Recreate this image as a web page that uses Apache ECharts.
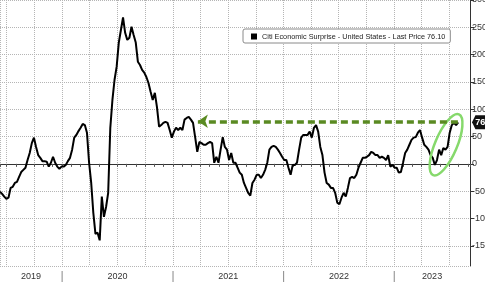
<!DOCTYPE html>
<html><head><meta charset="utf-8">
<script src="https://cdn.jsdelivr.net/npm/echarts@6/dist/echarts.min.js"></script>
<style>html,body{margin:0;padding:0;background:#fff}#c{width:485px;height:282px}</style>
</head><body><div id="c"></div>
<script>
// ---------- data ----------
const seriesName = 'Citi Economic Surprise - United States - Last Price 76.10';
const firstWeek = '2019-06-10';           // weekly observations start here
const weeklyValues = [
  -51, -55, -60, -64, -62, -44, -42, -35, -33, -24,
  -15, -11, -7, 7, 20, 38, 48, 31, 16, 11,
  5, 5, 4, -5, 2, 13, 2, -5, -9, -5,
  -5, -2, 5, 11, 26, 48, 53, 60, 66, 73,
  71, 57, 2, -35, -90, -128, -126, -140, -60, -97,
  -79, -53, 66, 117, 154, 178, 222, 245, 268, 240,
  227, 231, 251, 236, 222, 187, 181, 172, 167, 159,
  148, 132, 117, 130, 104, 68, 71, 75, 77, 75,
  62, 48, 59, 66, 62, 66, 62, 81, 84, 86,
  81, 75, 49, 22, 40, 38, 35, 35, 38, 40,
  38, 2, 13, 2, 26, 49, 31, 26, 7, 20,
  2, 2, -7, -16, -20, -35, -44, -53, -58, -35,
  -29, -20, -20, -26, -20, -11, 2, 26, 31, 33,
  31, 26, 20, 13, 7, 7, -7, -20, -2, -2,
  2, 26, 48, 53, 53, 53, 59, 48, 66, 71,
  59, 31, 16, -16, -35, -38, -44, -44, -53, -71,
  -74, -62, -53, -60, -44, -26, -24, -26, -20, -7,
  2, 11, 11, 13, 16, 22, 20, 16, 16, 11,
  13, 11, 7, 16, -5, -2, -7, -7, -16, -15,
  2, 20, 26, 35, 44, 48, 49, 57, 62, 48,
  35, 31, 26, 16, 11, -2, 7, 26, 16, 29,
  26, 31, 57, 71, 75, 71, 76.1
];
const lastPrice = 76.1;
const axisStart = '2019-06-10';
const axisEnd = '2023-09-08';
const yMin = -187, yMax = 300;
const yearLabels = ['2019', '2020', '2021', '2022', '2023'];
const yearStarts = ['2019-01-01', '2020-01-01', '2021-01-01', '2022-01-01', '2023-01-01'];
const yearEnds = ['2020-01-01', '2021-01-01', '2022-01-01', '2023-01-01', '2024-01-01'];
const arrowFrom = ['2021-03-24', 78];
const arrowTo = ['2023-07-31', 78];
const ellipseCenter = ['2023-06-21', 35];

// ---------- build ----------
const DAY = 86400000;
function fmt(d) {
  const p = n => String(n).padStart(2, '0');
  return d.getUTCFullYear() + '-' + p(d.getUTCMonth() + 1) + '-' + p(d.getUTCDate());
}
const t0 = Date.parse(firstWeek + 'T00:00:00Z');
const weekDates = weeklyValues.map((_, i) => fmt(new Date(t0 + i * 7 * DAY)));
const lineData = weekDates.map((d, i) => [d, weeklyValues[i]]);
const yearData = yearLabels.map((y, i) => [
  yearStarts[i] < axisStart ? axisStart : yearStarts[i],
  yearEnds[i] > axisEnd ? axisEnd : yearEnds[i],
  0
]);

const FONT = 'Liberation Sans, Arial, sans-serif';
const chart = echarts.init(document.getElementById('c'), null, { renderer: 'canvas' });
chart.setOption({
  animation: false,
  backgroundColor: '#fff',
  grid: { left: 0, right: 15, top: 0, bottom: 16, containLabel: false, outerBoundsMode: 'none' },
  legend: {
    left: 243, top: 29,
    data: [seriesName],
    icon: 'rect', itemWidth: 6, itemHeight: 6, itemGap: 4,
    padding: [4, 5, 3, 8],
    borderColor: '#8a8a8a', borderWidth: 1, borderRadius: 2,
    backgroundColor: '#fff',
    textStyle: { fontSize: 7.3, color: '#222', fontFamily: FONT }
  },
  xAxis: [
    {
      type: 'time', min: axisStart, max: axisEnd, position: 'bottom',
      minInterval: 28 * DAY, maxInterval: 31 * DAY,
      axisLine: { show: true, lineStyle: { color: '#333', width: 1 } },
      axisTick: { show: true, length: 3, lineStyle: { color: '#555' } },
      axisLabel: { show: false },
      splitLine: { show: false }
    },
    {
      type: 'time', min: axisStart, max: axisEnd, position: 'top',
      minInterval: 89 * DAY, maxInterval: 92 * DAY,
      axisLine: { show: false }, axisTick: { show: false }, axisLabel: { show: false },
      splitLine: { show: true, lineStyle: { color: '#b5b5b5', type: 'dotted', width: 1 } }
    }
  ],
  yAxis: {
    type: 'value', position: 'right', min: yMin, max: yMax, splitNumber: 10,
    axisLine: { show: true, lineStyle: { color: '#333', width: 1 } },
    axisTick: { show: true, length: 4, lineStyle: { color: '#333' } },
    axisLabel: { showMinLabel: false, margin: 2, fontSize: 9, color: '#333', fontFamily: FONT },
    splitLine: { show: true, lineStyle: { color: '#b5b5b5', type: 'dotted', width: 1 } }
  },
  series: [
    {
      name: seriesName, type: 'line', xAxisIndex: 0, data: lineData,
      showSymbol: false, symbol: 'none', color: '#000',
      lineStyle: { color: '#000', width: 2 },
      markLine: {
        silent: true, symbol: ['arrow', 'none'], symbolSize: 10,
        label: { show: false },
        lineStyle: { color: '#5a8a22', width: 3.5, type: [7, 4] },
        emphasis: { disabled: true },
        data: [[{ coord: arrowFrom }, { coord: arrowTo }]]
      },
      markPoint: {
        silent: true,
        symbol: 'path://M0,5 L4,0 L30,0 L30,10 L4,10 Z',
        symbolSize: [26, 14], symbolKeepAspect: false, symbolOffset: [15, 0],
        itemStyle: { color: '#111' },
        label: {
          show: true, position: 'inside', formatter: () => lastPrice.toFixed(1),
          color: '#fff', fontSize: 9, fontWeight: 'bold', fontFamily: FONT, offset: [-1, 0]
        },
        data: [{ coord: [axisEnd, lastPrice], value: lastPrice }]
      },
      z: 3
    },
    {
      name: 'ellipse', type: 'custom', xAxisIndex: 0, silent: true, z: 4,
      data: [ellipseCenter],
      encode: { x: 0, y: 1 },
      renderItem(params, api) {
        const p = api.coord([api.value(0), api.value(1)]);
        return {
          type: 'ellipse', x: p[0], y: p[1], rotation: 67 * Math.PI / 180,
          shape: { cx: 0, cy: 0, rx: 33, ry: 11 },
          style: { fill: 'none', stroke: '#86d96c', lineWidth: 2.5 }
        };
      }
    },
    {
      name: 'years', type: 'custom', xAxisIndex: 0, silent: true, clip: false,
      data: yearData,
      encode: { x: [0, 1], y: 2 },
      renderItem(params, api) {
        const cs = params.coordSys;
        const bottom = cs.y + cs.height;
        const x0 = api.coord([api.value(0), 0])[0];
        const x1 = api.coord([api.value(1), 0])[0];
        const kids = [{
          type: 'text', x: (x0 + x1) / 2, y: bottom + 11,
          style: { text: yearLabels[params.dataIndex], fill: '#333', fontSize: 9, fontFamily: FONT, align: 'center', verticalAlign: 'middle' }
        }];
        if (x0 > cs.x + 1) {
          kids.push({ type: 'line', shape: { x1: x0, y1: bottom + 5, x2: x0, y2: bottom + 17 }, style: { stroke: '#888', lineWidth: 1 } });
        }
        return { type: 'group', children: kids };
      }
    }
  ]
});
</script></body></html>
